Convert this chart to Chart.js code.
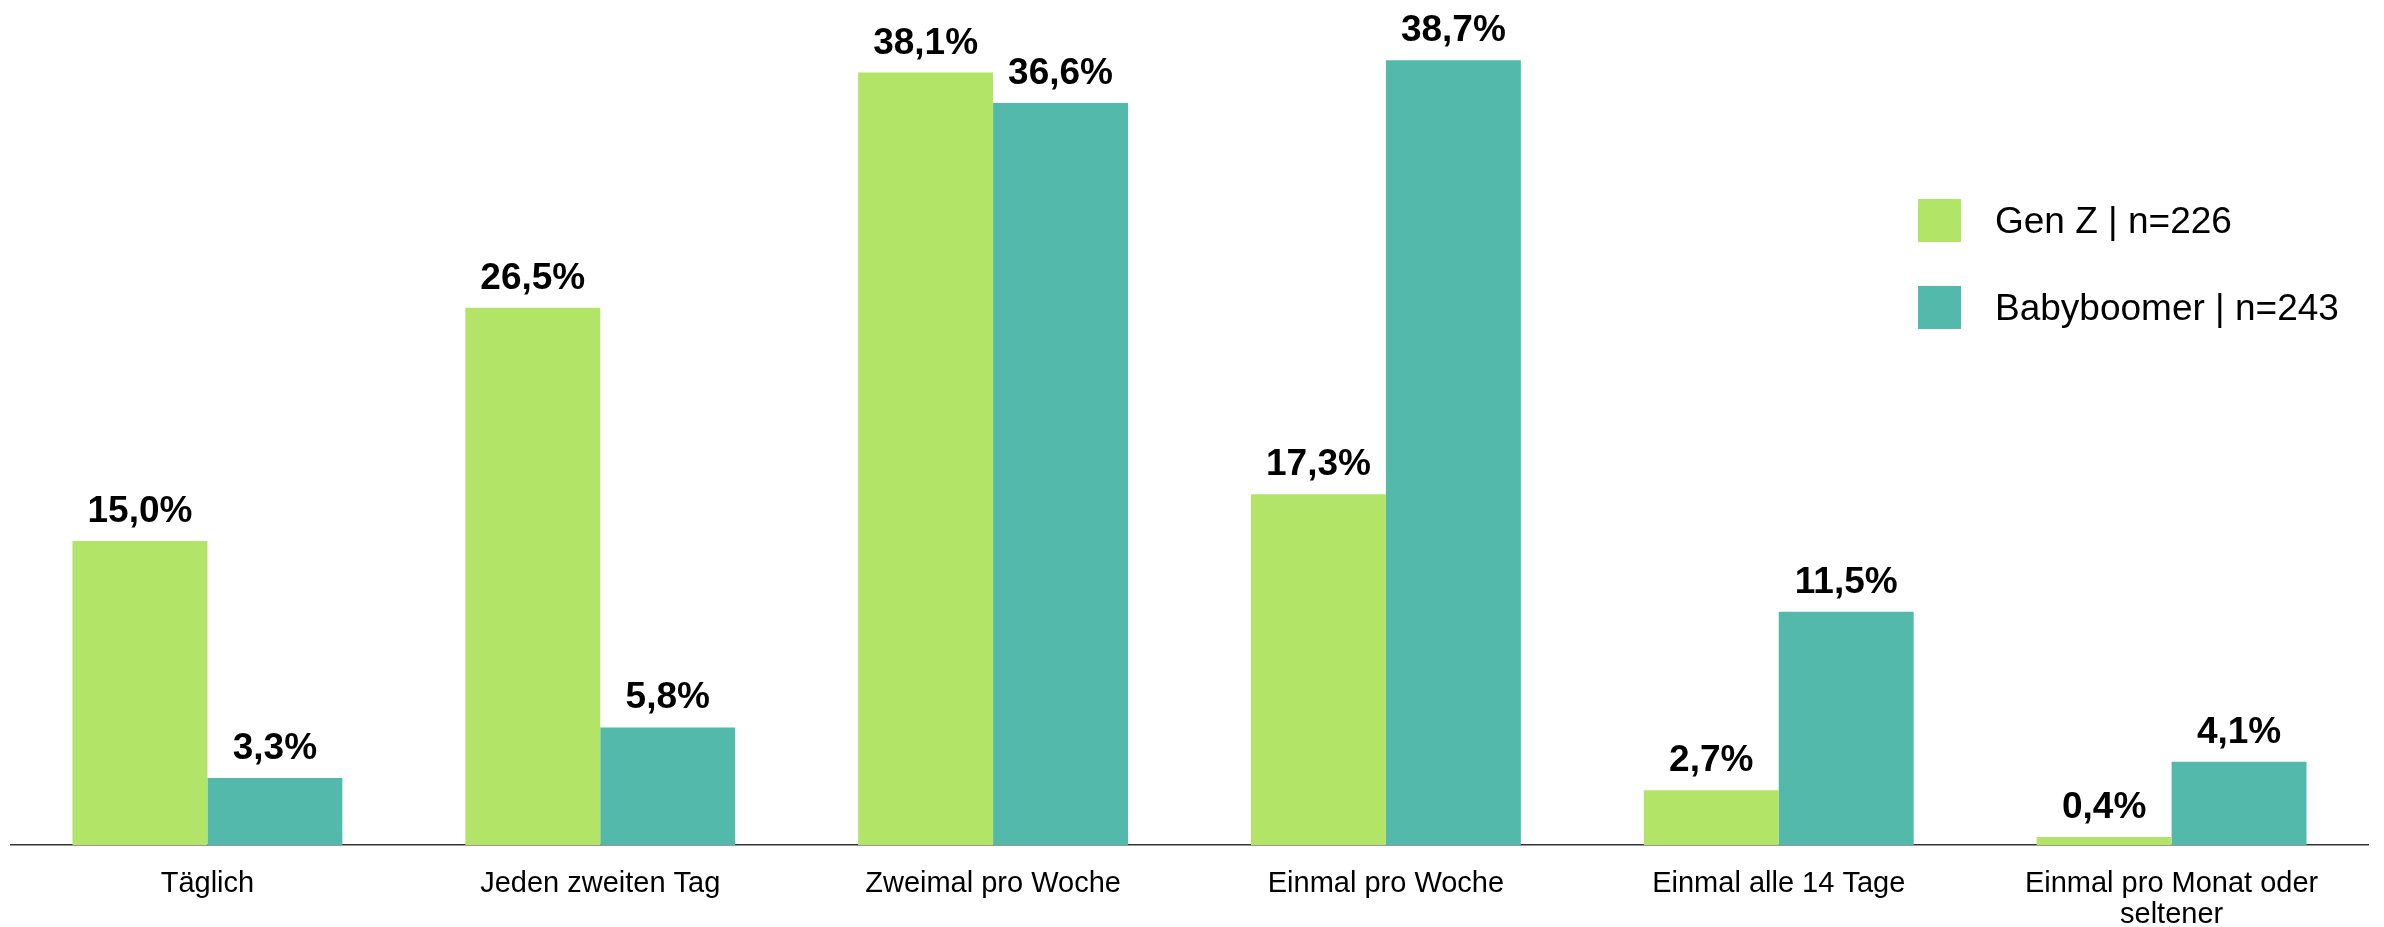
<!DOCTYPE html>
<html>
<head>
<meta charset="utf-8">
<script src="https://cdn.jsdelivr.net/npm/chart.js@4.4.1/dist/chart.umd.min.js"></script>
<style>
  html, body { margin: 0; padding: 0; background: #ffffff; }
  #wrap { width: 2384px; height: 927px; position: relative; }
</style>
</head>
<body>
<div id="wrap"><canvas id="c"></canvas></div>
<script>
const categories = [
  "Täglich",
  "Jeden zweiten Tag",
  "Zweimal pro Woche",
  "Einmal pro Woche",
  "Einmal alle 14 Tage",
  ["Einmal pro Monat oder", "seltener"]
];
const seriesNames = ["Gen Z | n=226", "Babyboomer | n=243"];
const genZ = [15.0, 26.5, 38.1, 17.3, 2.7, 0.4];
const babyboomer = [3.3, 5.8, 36.6, 38.7, 11.5, 4.1];
const seriesColors = ["#b2e567", "#52b9ab"];

const FONT = "'Liberation Sans', Arial, sans-serif";

const valueLabels = {
  id: 'valueLabels',
  afterDatasetsDraw(chart) {
    const ctx = chart.ctx;
    ctx.save();
    ctx.font = "bold 37px " + FONT;
    ctx.fillStyle = "#000000";
    ctx.textAlign = "center";
    ctx.textBaseline = "alphabetic";
    chart.data.datasets.forEach((ds, i) => {
      const meta = chart.getDatasetMeta(i);
      meta.data.forEach((bar, j) => {
        const v = ds.data[j];
        const txt = v.toFixed(1).replace('.', ',') + '%';
        ctx.fillText(txt, bar.x, bar.y - 19);
      });
    });
    ctx.restore();
  }
};

const customLegend = {
  id: 'customLegend',
  afterDraw(chart) {
    const ctx = chart.ctx;
    ctx.save();
    ctx.font = "37px " + FONT;
    ctx.textAlign = "left";
    ctx.textBaseline = "middle";
    const boxX = 1918, boxSize = 43, rowTops = [199, 286];
    chart.data.datasets.forEach((ds, i) => {
      ctx.fillStyle = ds.backgroundColor;
      ctx.fillRect(boxX, rowTops[i], boxSize, boxSize);
      ctx.fillStyle = "#000000";
      ctx.fillText(ds.label, boxX + boxSize + 34, rowTops[i] + boxSize / 2 + 2);
    });
    ctx.restore();
  }
};

new Chart(document.getElementById('c'), {
  type: 'bar',
  data: {
    labels: categories,
    datasets: [
      { label: seriesNames[0], data: genZ, backgroundColor: seriesColors[0], borderWidth: 0 },
      { label: seriesNames[1], data: babyboomer, backgroundColor: seriesColors[1], borderWidth: 0 }
    ]
  },
  options: {
    responsive: true,
    maintainAspectRatio: false,
    animation: false,
    devicePixelRatio: 1,
    layout: { padding: { left: 11, right: 16, top: 34, bottom: 0 } },
    datasets: { bar: { categoryPercentage: 0.687, barPercentage: 1.0 } },
    plugins: {
      legend: { display: false },
      tooltip: { enabled: false }
    },
    scales: {
      x: {
        grid: { display: false, drawTicks: false },
        border: { display: true, color: '#333333', width: 1.5 },
        ticks: {
          color: '#000000',
          font: { family: FONT, size: 29, lineHeight: 1.07 },
          padding: 23,
          maxRotation: 0,
          autoSkip: false
        },
        afterFit(scale) { scale.height = 82; }
      },
      y: {
        display: false,
        min: 0,
        max: 40
      }
    }
  },
  plugins: [valueLabels, customLegend]
});
</script>
</body>
</html>
